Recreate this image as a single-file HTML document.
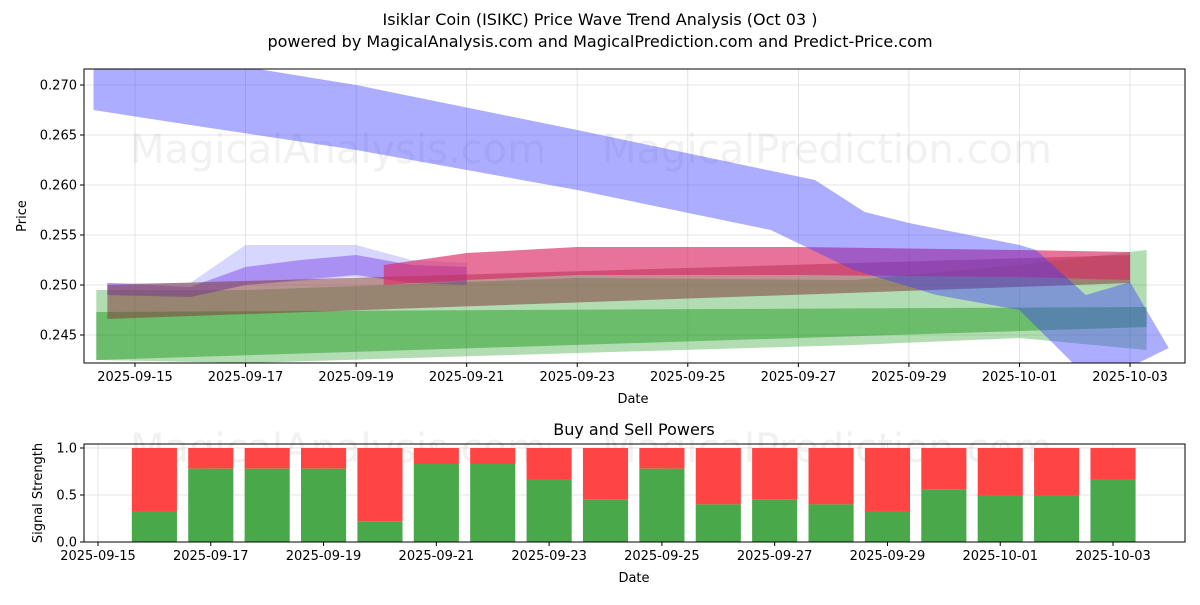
<!DOCTYPE html>
<html><head><meta charset="utf-8"><style>
body{margin:0;background:#fff;font-family:"Liberation Sans","DejaVu Sans",sans-serif;}
svg text{font-family:"DejaVu Sans","Liberation Sans",sans-serif;}
</style></head><body>
<svg id="c" width="1200" height="600" xmlns="http://www.w3.org/2000/svg">
<text x="600" y="25" text-anchor="middle" font-size="16">Isiklar Coin (ISIKC) Price Wave Trend Analysis (Oct 03 )</text>
<text x="600" y="47" text-anchor="middle" font-size="16">powered by MagicalAnalysis.com and MagicalPrediction.com and Predict-Price.com</text>
<g id="topg"></g><g id="botg"></g>
</svg>
<script>
// ---- data ----
const tickDays=[0,2,4,6,8,10,12,14,16,18];
const tickLabels=["2025-09-15","2025-09-17","2025-09-19","2025-09-21","2025-09-23","2025-09-25","2025-09-27","2025-09-29","2025-10-01","2025-10-03"];
const priceTicks=[0.245,0.250,0.255,0.260,0.265,0.270];
const greenLightDays=[-0.7,2,8,13,16,18.3];
const greenLightUpper=[0.2495,0.2495,0.2507,0.2505,0.2520,0.2535];
const greenLightLower=[0.2425,0.2422,0.2432,0.2440,0.2447,0.2435];
const greenDarkDays=[-0.7,18.3];
const greenDarkUpper=[0.2473,0.2478];
const greenDarkLower=[0.2425,0.2458];
const brownDays=[-0.5,18];
const brownUpper=[0.2500,0.2530];
const brownLower=[0.2466,0.2502];
const faintBlueDays=[-0.5,1,2,4,5,6];
const faintBlueUpper=[0.2502,0.2502,0.2540,0.2540,0.2525,0.2522];
const faintBlueLower=[0.2490,0.2488,0.2500,0.2508,0.2505,0.2502];
const purpleDays=[-0.5,1,2,3,4,5,6];
const purpleUpper=[0.2502,0.2498,0.2518,0.2525,0.2530,0.2520,0.2518];
const purpleLower=[0.2490,0.2488,0.2500,0.2505,0.2510,0.2502,0.2500];
const redDays=[4.5,6,8,12,16,18];
const redUpper=[0.2520,0.2532,0.2538,0.2538,0.2535,0.2533];
const redLower=[0.2500,0.2505,0.2510,0.2510,0.2508,0.2505];
const blueDays=[-0.75,2,4,8,12.3,13.2,14,16,16.3,17.2,18,18.7];
const blueUpper=[0.2725,0.2718,0.2700,0.2655,0.2605,0.2573,0.2562,0.2540,0.2535,0.2490,0.2503,0.2437];
const blueLowerDays=[-0.75,1,4,8,11.5,13,14.5,16,17,18];
const blueLower=[0.2675,0.2660,0.2635,0.2595,0.2555,0.2515,0.2490,0.2475,0.2420,0.2418];
const barLabels=["09-16","09-17","09-18","09-19","09-20","09-21","09-22","09-23","09-24","09-25","09-26","09-27","09-28","09-29","09-30","10-01","10-02","10-03"];
const barDays=[1,2,3,4,5,6,7,8,9,10,11,12,13,14,15,16,17,18];
const buyValues=[0.33,0.78,0.78,0.78,0.22,0.83,0.83,0.67,0.45,0.78,0.4,0.45,0.4,0.33,0.56,0.5,0.5,0.67];
const sigTicks=[0,0.5,1.0];
// ---- axes ----
const NS="http://www.w3.org/2000/svg";
const L=84,R=1185,T=69,B=363;
const xT=d=>135+d*55.28, yT=v=>285-(v-0.25)*10000;
const BT=444,BB=542;
const xB=d=>98+d*56.39, yB=v=>542-v*94;
function mk(tag,at,par){const e=document.createElementNS(NS,tag);for(const k in at)e.setAttribute(k,at[k]);par.appendChild(e);return e;}
const topG=document.getElementById('topg'),botG=document.getElementById('botg'),svgEl=document.getElementById('c');
const defs=mk('defs',{},svgEl);
const cp=mk('clipPath',{id:'cp'},defs);mk('rect',{x:L,y:T,width:R-L,height:B-T},cp);
tickDays.forEach((d,i)=>{
 const g=mk('line',{x1:xT(d),x2:xT(d),y1:T,y2:B,stroke:'#ddd','stroke-width':0.8},topG);
 
 
 mk('line',{x1:xT(d),x2:xT(d),y1:B,y2:B+4,stroke:'#000'},topG);
 const t=mk('text',{x:xT(d),y:B+18,'text-anchor':'middle','font-size':13},topG);t.textContent=tickLabels[i];
 
 
});
priceTicks.forEach(v=>{
 mk('line',{x1:L,x2:R,y1:yT(v),y2:yT(v),stroke:'#ddd','stroke-width':0.8},topG);
 mk('line',{x1:L-4,x2:L,y1:yT(v),y2:yT(v),stroke:'#000'},topG);
 const t=mk('text',{x:L-7,y:yT(v)+4.5,'text-anchor':'end','font-size':13},topG);t.textContent=v.toFixed(3);
 
 
});
const wm=(x,y,s,p)=>{const t=mk('text',{x:x,y:y,'font-size':40,fill:'#888','fill-opacity':0.12},p);t.textContent=s;
 
 };
wm(130,163,'MagicalAnalysis.com',topG);wm(602,163,'MagicalPrediction.com',topG);
const bands=mk('g',{'clip-path':'url(#cp)'},topG);
function band(days,up,lowDays,low,fill,name){
 let pts=days.map((d,i)=>xT(d)+','+yT(up[i]));
 for(let i=low.length-1;i>=0;i--)pts.push(xT(lowDays[i])+','+yT(low[i]));
 const p=mk('polygon',{points:pts.join(' '),fill:fill},bands);
 
 
}
band(greenLightDays,greenLightUpper,greenLightDays,greenLightLower,'rgba(0,140,0,0.3)','green-wide-band');
band(greenDarkDays,greenDarkUpper,greenDarkDays,greenDarkLower,'rgba(0,140,0,0.4)','green-dark-band');
band(faintBlueDays,faintBlueUpper,faintBlueDays,faintBlueLower,'rgba(90,90,255,0.25)','blue-faint-band');
band(purpleDays,purpleUpper,purpleDays,purpleLower,'rgba(120,60,230,0.45)','purple-band');
band(brownDays,brownUpper,brownDays,brownLower,'rgba(130,60,60,0.55)','brown-band');
band(redDays,redUpper,redDays,redLower,'rgba(220,40,100,0.65)','red-band');
band(blueDays,blueUpper,blueLowerDays,blueLower,'rgba(60,60,255,0.42)','blue-main-band');
mk('rect',{x:L,y:T,width:R-L,height:B-T,fill:'none',stroke:'#000','stroke-width':1},topG);
let tt=mk('text',{x:633,y:403,'text-anchor':'middle','font-size':13},topG);tt.textContent='Date';
tt=mk('text',{x:26,y:216,'text-anchor':'middle','font-size':13,transform:'rotate(-90 26 216)'},topG);tt.textContent='Price';


tt=mk('text',{x:634,y:435,'text-anchor':'middle','font-size':16},botG);tt.textContent='Buy and Sell Powers';


sigTicks.forEach(v=>{
 mk('line',{x1:L,x2:R,y1:yB(v),y2:yB(v),stroke:'#ddd','stroke-width':0.8},botG);
 mk('line',{x1:L-4,x2:L,y1:yB(v),y2:yB(v),stroke:'#000'},botG);
 const t=mk('text',{x:L-7,y:yB(v)+4.5,'text-anchor':'end','font-size':13},botG);t.textContent=v.toFixed(1);
});
tickDays.forEach((d,i)=>{
 mk('line',{x1:xB(d),x2:xB(d),y1:BT,y2:BB,stroke:'#ddd','stroke-width':0.8},botG);
 mk('line',{x1:xB(d),x2:xB(d),y1:BB,y2:BB+4,stroke:'#000'},botG);
 const t=mk('text',{x:xB(d),y:BB+18,'text-anchor':'middle','font-size':13},botG);t.textContent=tickLabels[i];
});
wm(130,462,'MagicalAnalysis.com',botG);wm(602,462,'MagicalPrediction.com',botG);
barDays.forEach((d,i)=>{
 const w=0.8*56.39,x=xB(d)-w/2;
 const s=mk('rect',{x:x,y:yB(1),width:w,height:yB(buyValues[i])-yB(1),fill:'#ff4444'},botG);
 
 
 const g=mk('rect',{x:x,y:yB(buyValues[i]),width:w,height:yB(0)-yB(buyValues[i]),fill:'#48a84a'},botG);
 
 
});
mk('rect',{x:L,y:BT,width:R-L,height:BB-BT,fill:'none',stroke:'#000','stroke-width':1},botG);
tt=mk('text',{x:634,y:582,'text-anchor':'middle','font-size':13},botG);tt.textContent='Date';
tt=mk('text',{x:42,y:493,'text-anchor':'middle','font-size':13,transform:'rotate(-90 42 493)'},botG);tt.textContent='Signal Strength';
</script>
</body></html>
